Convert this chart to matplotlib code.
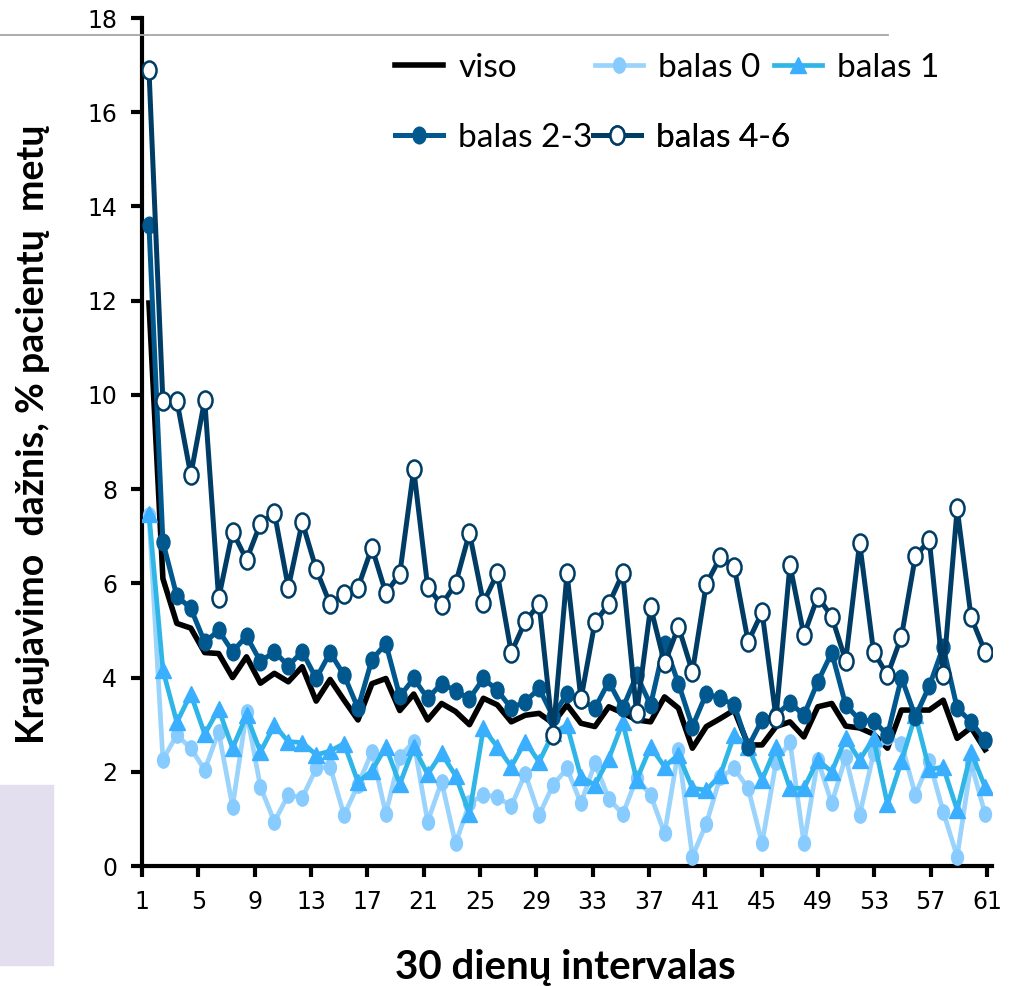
import numpy as np
import matplotlib
matplotlib.use('Agg')
import matplotlib.pyplot as plt
from matplotlib.path import Path
from matplotlib.transforms import Affine2D
from matplotlib.lines import Line2D
from matplotlib.patches import Rectangle

# 30 day intervals 1..61
intervals = np.arange(1, 62)
tick_labels = [str(k) for k in range(1, 62, 4)]

viso = [11.95, 6.1, 5.15, 5.05, 4.53, 4.51, 4.0, 4.44, 3.88, 4.09,
        3.91, 4.23, 3.5, 3.96, 3.52, 3.1, 3.87, 3.98, 3.3, 3.65,
        3.1, 3.45, 3.28, 3.0, 3.56, 3.42, 3.06, 3.2, 3.24, 3.03,
        3.42, 3.03, 2.96, 3.38, 3.25, 3.1, 3.06, 3.59, 3.35, 2.5,
        2.96, 3.13, 3.31, 2.57, 2.57, 2.96, 3.06, 2.74, 3.38, 3.45,
        2.97, 2.93, 2.8, 2.5, 3.31, 3.31, 3.31, 3.52, 2.71, 2.94, 2.47]

balas0 = [7.45, 2.26, 2.78, 2.5, 2.04, 2.85, 1.26, 3.27, 1.68, 0.94,
          1.51, 1.45, 2.07, 2.11, 1.08, 1.72, 2.42, 1.11, 2.32, 2.64,
          0.94, 1.79, 0.48, 1.33, 1.51, 1.47, 1.27, 1.96, 1.08, 1.72,
          2.07, 1.33, 2.18, 1.43, 1.1, 1.86, 1.51, 0.69, 2.46, 0.2,
          0.9, 1.89, 2.07, 1.65, 0.48, 2.2, 2.64, 0.48, 2.25, 1.33,
          2.32, 1.08, 2.39, 2.74, 2.6, 1.51, 2.23, 1.15, 0.2, 2.18, 1.11]

balas1 = [7.48, 4.16, 3.05, 3.65, 2.8, 3.33, 2.5, 3.2, 2.42, 2.99,
          2.64, 2.62, 2.36, 2.44, 2.6, 1.78, 2.02, 2.53, 1.74, 2.52,
          1.95, 2.39, 1.92, 1.11, 2.92, 2.53, 2.11, 2.64, 2.21, 2.82,
          2.99, 1.89, 1.72, 2.28, 3.05, 1.83, 2.53, 2.11, 2.36, 1.65,
          1.61, 1.93, 2.78, 2.53, 1.83, 2.53, 1.65, 1.65, 2.25, 2.0,
          2.71, 2.25, 2.71, 1.31, 2.22, 3.2, 2.05, 2.1, 1.19, 2.42, 1.68]

balas23 = [13.6, 6.88, 5.73, 5.47, 4.75, 5.0, 4.55, 4.88, 4.34, 4.55,
           4.25, 4.55, 3.98, 4.53, 4.05, 3.35, 4.38, 4.72, 3.6, 3.98,
           3.56, 3.87, 3.72, 3.55, 3.98, 3.73, 3.35, 3.49, 3.77, 3.17,
           3.66, 3.52, 3.35, 3.91, 3.35, 4.05, 3.42, 4.72, 3.87, 2.96,
           3.66, 3.56, 3.42, 2.53, 3.1, 3.2, 3.47, 3.2, 3.91, 4.53,
           3.42, 3.1, 3.08, 2.78, 4.0, 3.17, 3.82, 4.65, 3.35, 3.06, 2.67]

balas46 = [16.9, 9.86, 9.88, 8.3, 9.9, 5.68, 7.1, 6.5, 7.27, 7.5,
           5.91, 7.3, 6.3, 5.56, 5.77, 5.91, 6.76, 5.79, 6.2, 8.42,
           5.93, 5.54, 5.99, 7.07, 5.59, 6.21, 4.53, 5.19, 5.56, 2.78,
           6.21, 3.54, 5.17, 5.56, 6.21, 3.24, 5.5, 4.3, 5.08, 4.12,
           5.99, 6.55, 6.35, 4.76, 5.39, 3.15, 6.39, 4.9, 5.72, 5.29,
           4.36, 6.86, 4.55, 4.05, 4.87, 6.57, 6.92, 4.05, 7.59, 5.28, 4.55]

W, H = 1019, 986
fig = plt.figure(figsize=(W / 100, H / 100), dpi=100)

# slide leftovers around the chart
fig.patches.append(Rectangle((0, 1 - 965 / H), 53 / W, 180 / H,
                             transform=fig.transFigure, color='#e4dfee', zorder=0))
fig.add_artist(Line2D([0, 888 / W], [1 - 35 / H, 1 - 35 / H],
                      color='#a6a6a6', lw=1.3, zorder=1))

ax = fig.add_axes([142 / W, 120 / H, 850 / W, 848 / H])

ell = Path.unit_circle().transformed(Affine2D().scale(0.78, 1.0))

h_viso, = ax.plot(intervals, viso, color='black', lw=4, zorder=3)
h_b0, = ax.plot(intervals, balas0, color='#9ad4fc', lw=3.4, marker=ell, ms=11,
                mfc='#88cbff', mec='#88cbff', zorder=4)
h_b1, = ax.plot(intervals, balas1, color='#2fb6e6', lw=3.4, marker='^', ms=11,
                mfc='#3aaeff', mec='#3aaeff', zorder=5)
h_b23, = ax.plot(intervals, balas23, color='#00588f', lw=3.6, marker=ell, ms=12,
                 mfc='#00588f', mec='#00588f', zorder=6)
h_b46, = ax.plot(intervals, balas46, color='#003d66', lw=3.6, marker=ell, ms=13,
                 mfc='white', mec='#003d66', mew=1.8, zorder=7)

ax.set_xlim(0.5, 61.5)
ax.set_ylim(0, 18)
ax.set_xticks(np.linspace(0.5, 61.14, 16))
ax.set_xticklabels(tick_labels)
ax.set_yticks(range(0, 19, 2))

for s in ['top', 'right']:
    ax.spines[s].set_visible(False)
for s in ['left', 'bottom']:
    ax.spines[s].set_linewidth(3)
ax.tick_params(axis='both', direction='out', length=8, width=3, labelsize=17)
ax.tick_params(axis='y', pad=10)
ax.tick_params(axis='x', pad=9)

fig.text(33 / W, 1 - 434 / H, 'Kraujavimo  dažnis, % pacientų  metų',
         rotation=90, ha='center', va='center', fontsize=27,
         fontweight='bold', family=['Lato', 'DejaVu Sans'])
fig.text(565 / W, 1 - 968 / H, '30 dienų intervalas', ha='center', va='center',
         fontsize=29, fontweight='bold', family=['Lato', 'DejaVu Sans'])

entries = [(h_viso, 'viso', 395, 68), (h_b0, 'balas 0', 595, 68),
           (h_b1, 'balas 1', 774, 68), (h_b23, 'balas 2-3', 395, 138),
           (h_b46, 'balas 4-6', 593, 138)]
for h, lab, px, py in entries:
    leg = ax.legend([h], [lab], loc='center left',
                    bbox_to_anchor=(px / W, 1 - py / H),
                    bbox_transform=fig.transFigure, frameon=False,
                    borderpad=0, borderaxespad=0, handlelength=1.45,
                    handletextpad=0.45, prop={'family': 'Lato', 'size': 24})
    ax.add_artist(leg)

fig.savefig('out.png', dpi=100)
